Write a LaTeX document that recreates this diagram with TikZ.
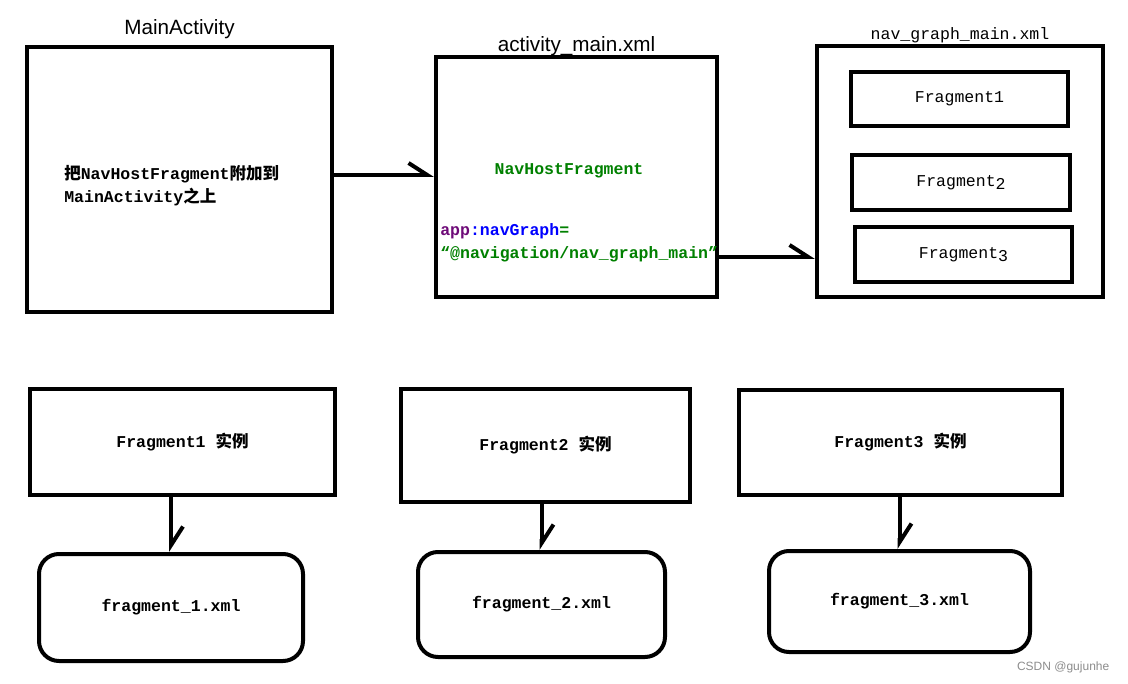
\documentclass[tikz,border=0pt]{standalone}
\usepackage{fontspec}
\setsansfont{Liberation Sans}
\setmonofont{Liberation Mono}
\newfontfamily\cjk{Noto Sans CJK SC}
\usepackage{xcolor}
\usetikzlibrary{
    arrows.meta,
    positioning
}
\definecolor{xmlgreen}{RGB}{0,128,0}
\definecolor{appviolet}{RGB}{110,10,120}
\definecolor{navblue}{RGB}{0,0,255}
\def\px{0.75pt}
\tikzset{
    flow/.style = {line width=3pt,
      -{Straight Barb[harpoon,length=14pt,width=18pt]}}
  }
\tikzset{
    box/.style 2 args = {draw, line width=3pt, inner sep=0pt,
      minimum width=#1*\px, minimum height=#2*\px}
  }
\tikzset{
    filebox/.style 2 args = {box={#1}{#2}, rounded corners=15pt}
  }
\tikzset{
    boxtitle/.style = {font=\sffamily\fontsize{15.5}{17}\selectfont}
  }
\tikzset{
    codetext/.style = {font=\ttfamily\bfseries\fontsize{12.4}{17.25}\selectfont}
  }
\tikzset{
    plaintext/.style = {font=\ttfamily\fontsize{12.4}{17.25}\selectfont}
  }

\begin{document}
\begin{tikzpicture}[x=0.75pt,y=-0.75pt]
\useasboundingbox (0,0) rectangle (1128,684);

\node[box={305}{265},
      label={[boxtitle,label distance=1pt]above:MainActivity}]
  at (179.5,179.5) (main) {};

\node[codetext, align=left, inner sep=0pt, anchor=west]
  at (64,186) (attach)
  {{\cjk 把}NavHostFragment{\cjk 附加到}\\MainActivity{\cjk 之上}};

\node[box={281}{240},
      label={[boxtitle,label distance=-4pt]above:activity\_main.xml}]
  at (576.5,177) (act) {};

\node[codetext, text=xmlgreen] at (569,171) (host) {NavHostFragment};

\node[codetext, align=left, inner sep=0pt, anchor=west]
  at (440,242.5) (attr)
  {{\color{appviolet}app}{\color{navblue}:navGraph}{\color{xmlgreen}=}\\
   {\color{xmlgreen}“@navigation/nav\_graph\_main”}};

\node[box={286}{251},
      label={[plaintext,label distance=-3pt]above:nav\_graph\_main.xml}]
  at (960,171.5) (nav) {};

\node[box={217}{54}, plaintext] at (959.5,99) (f_one) {Fragment1};
\node[box={218}{55}, plaintext] at (961,182.5) (f_two)
  {Fragment\raisebox{-0.4ex}{2}};
\node[box={217}{55}, plaintext] at (963.5,254.5) (f_three)
  {Fragment\raisebox{-0.4ex}{3}};

\coordinate (tie) at (0,175);
\coordinate (hook) at (0,257);
\draw[flow] (main.east |- tie) -- (act.west |- tie);
\draw[flow] (act.east |- hook) -- (nav.west |- hook);


\node[box={305}{106}, codetext] at (182.5,442) (fa_one)
  {Fragment1 {\cjk 实例}};
\node[box={289}{113}, codetext] at (545.5,445.5) (fa_two)
  {Fragment2 {\cjk 实例}};
\node[box={323}{105}, codetext] at (900.5,442.5) (fa_three)
  {Fragment3 {\cjk 实例}};

\node[filebox={264}{107}, codetext] at (171,607.5) (fx_one)
  {fragment\_1.xml};
\node[filebox={247}{105}, codetext] at (541.5,604.5) (fx_two)
  {fragment\_2.xml};
\node[filebox={261}{101}, codetext] at (899.5,601.5) (fx_three)
  {fragment\_3.xml};

\draw[flow] (fa_one.south -| fx_one.north) -- (fx_one.north);
\draw[flow] (fa_two.south -| fx_two.north) -- (fx_two.north);
\draw[flow] (fa_three.south -| fx_three.north) -- (fx_three.north);

\node[font=\sffamily\fontsize{9}{10}\selectfont, text=black!45, anchor=east]
  at (1114,667) (csdn) {CSDN @gujunhe};

\end{tikzpicture}
\end{document}
